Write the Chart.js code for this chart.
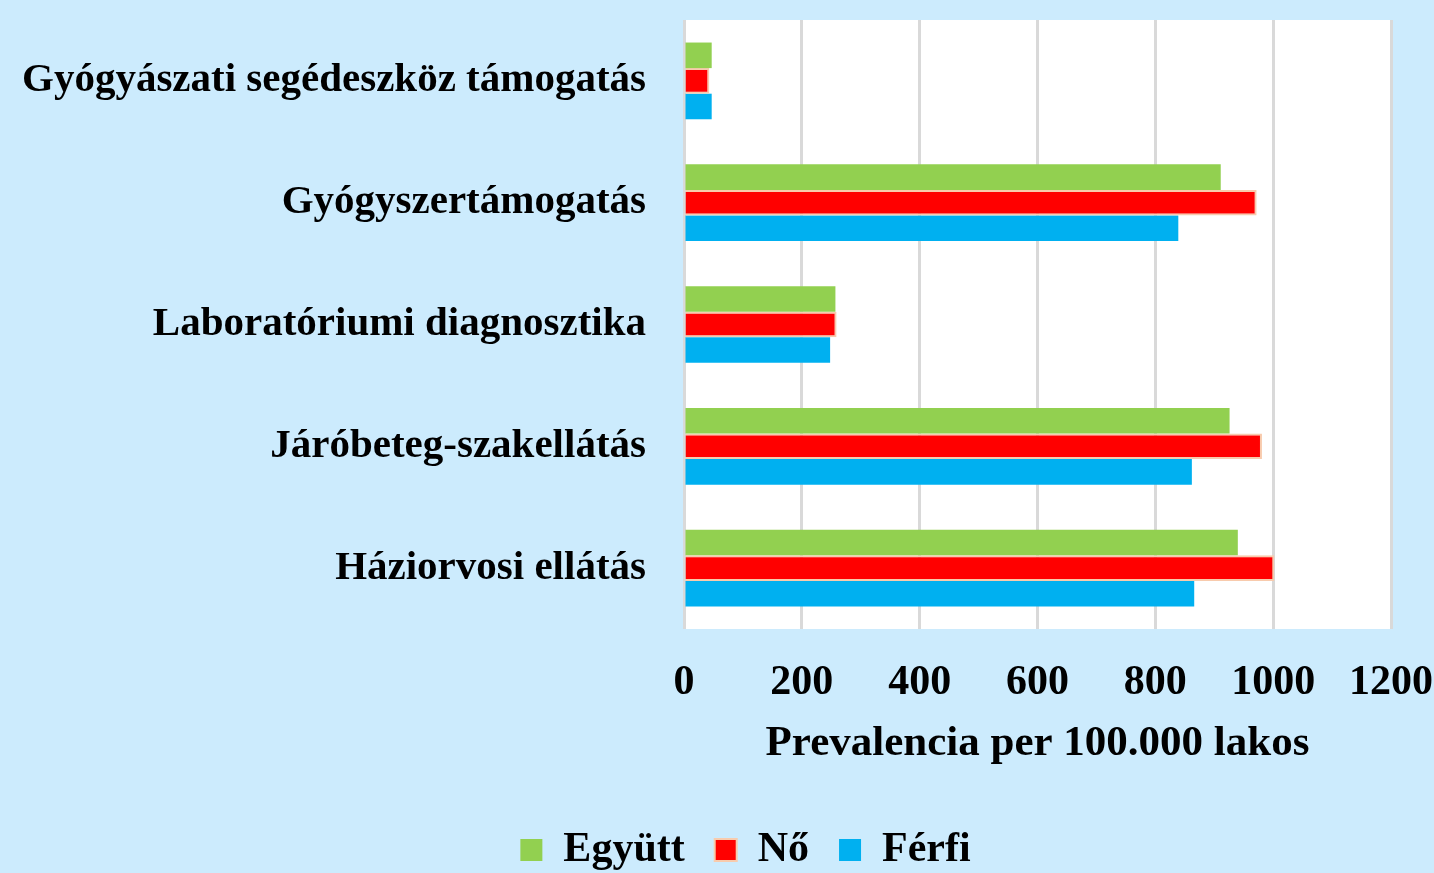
<!DOCTYPE html>
<html>
<head>
<meta charset="utf-8">
<script src="https://cdn.jsdelivr.net/npm/chart.js@4"></script>
<style>
  html, body { margin: 0; padding: 0; background: #CCEBFD; }
  #wrap { width: 1434px; height: 873px; }
</style>
</head>
<body>
<div id="wrap"><canvas id="chart"></canvas></div>
<script>
// Adatok (felülről lefelé)
const kategoriak = [
  "Gyógyászati segédeszköz támogatás",
  "Gyógyszertámogatás",
  "Laboratóriumi diagnosztika",
  "Járóbeteg-szakellátás",
  "Háziorvosi ellátás"
];
const egyutt = [47, 911, 257, 926, 940];
const no = [43, 972, 259, 981, 1002];
const ferfi = [47, 839, 248, 862, 866];
const xTengelyCim = "Prevalencia per 100.000 lakos";

const betu = "'Liberation Serif', 'Times New Roman', serif";

// fehér rajzterület háttér
const feherHatter = {
  id: "feherHatter",
  beforeDraw(chart) {
    const { ctx, chartArea } = chart;
    ctx.save();
    ctx.fillStyle = "#ffffff";
    ctx.fillRect(chartArea.left, chartArea.top, chartArea.right - chartArea.left, chartArea.bottom - chartArea.top);
    ctx.restore();
  }
};

// jelmagyarázat kicsit jobbra, mint az eredetin
const legendEltolas = {
  id: "legendEltolas",
  afterLayout(chart) {
    if (chart.legend) {
      chart.legend.left += 50;
      chart.legend.right += 50;
    }
  }
};

new Chart(document.getElementById("chart"), {
  type: "bar",
  data: {
    labels: kategoriak,
    datasets: [
      { label: "Együtt", data: egyutt, backgroundColor: "#92D050", borderWidth: 0 },
      { label: "Nő", data: no, backgroundColor: "#FF0000", borderColor: "#F8CBAD", borderWidth: 2 },
      { label: "Férfi", data: ferfi, backgroundColor: "#00B0F0", borderWidth: 0 }
    ]
  },
  options: {
    indexAxis: "y",
    responsive: true,
    maintainAspectRatio: false,
    animation: false,
    datasets: { bar: { barPercentage: 1, categoryPercentage: 0.63 } },
    layout: { padding: { top: 20, right: 43, bottom: -8, left: 0 } },
    scales: {
      x: {
        min: 0,
        max: 1200,
        ticks: {
          stepSize: 200, color: "#000", padding: 29,
          font: { family: betu, size: 42, weight: "bold" },
          callback: (v) => String(v)
        },
        grid: { color: "#D9D9D9", lineWidth: 3, drawTicks: false },
        border: { display: false },
        title: { display: true, text: xTengelyCim, color: "#000", padding: { top: -19, bottom: 29 }, font: { family: betu, size: 43, weight: "bold" } },
        afterFit(scale) { scale.paddingLeft = 0; scale.paddingRight = 0; }
      },
      y: {
        ticks: { color: "#000", padding: 30, font: { family: betu, size: 41, weight: "bold" } },
        grid: { display: false },
        border: { display: false },
        afterFit(scale) { scale.width = 684; scale.paddingTop = 0; scale.paddingBottom = 0; }
      }
    },
    plugins: {
      legend: {
        position: "bottom",
        labels: { color: "#000", boxWidth: 22, boxHeight: 22, padding: 30, font: { family: betu, size: 42, weight: "bold" } }
      },
      tooltip: { enabled: false }
    }
  },
  plugins: [feherHatter, legendEltolas]
});
</script>
</body>
</html>
